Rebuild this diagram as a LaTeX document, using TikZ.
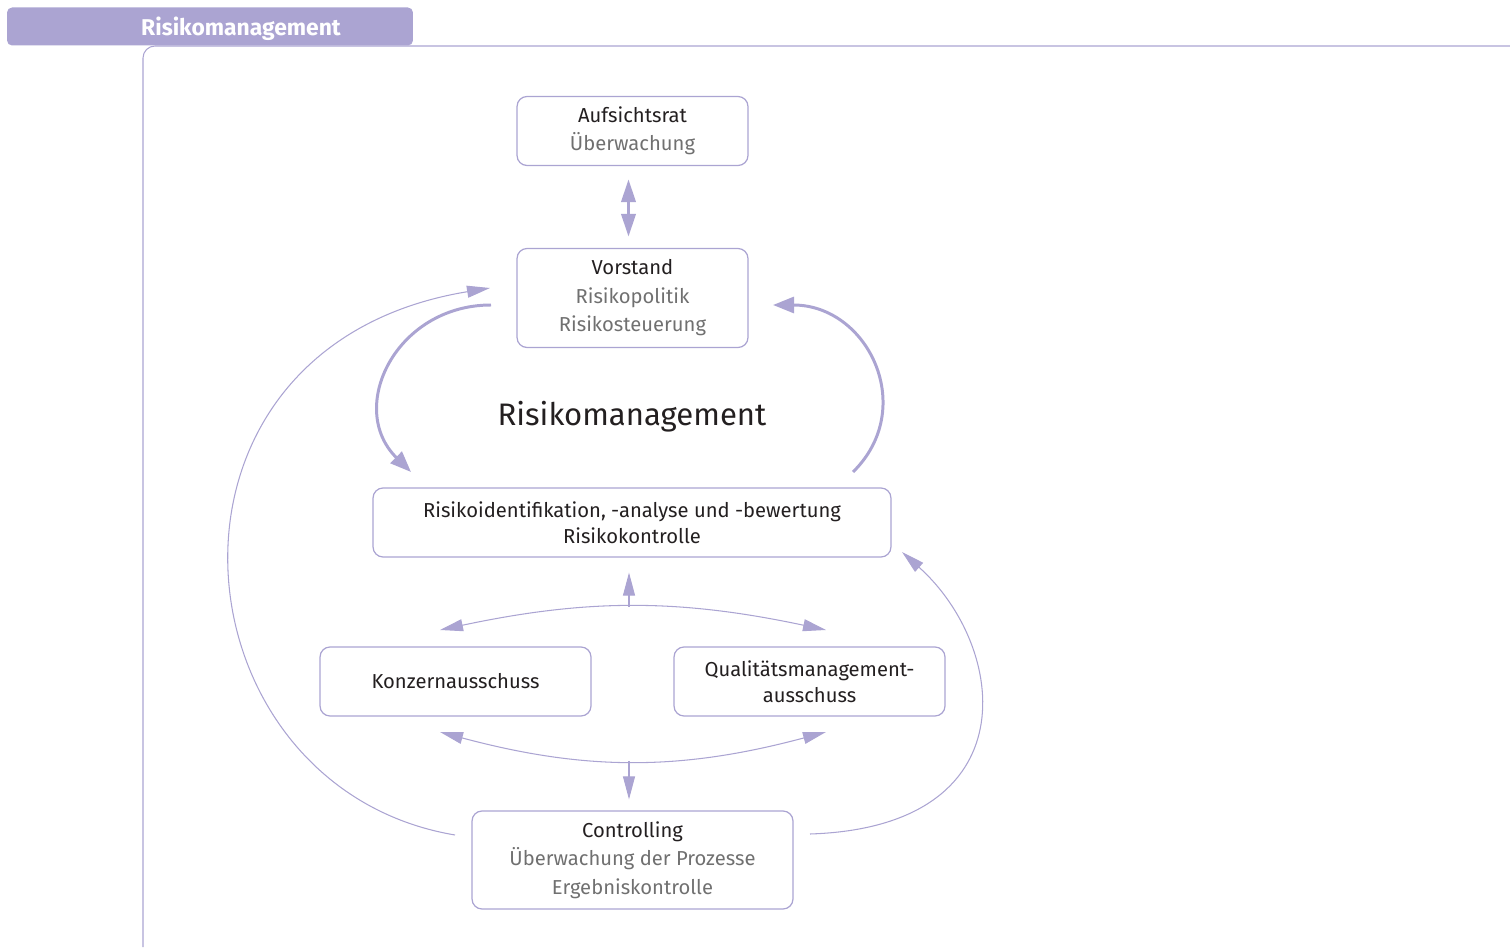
\documentclass[tikz,border=0pt]{standalone}
\usepackage{fontspec}
\setmainfont{Fira Sans}
\usetikzlibrary{shapes,arrows,arrows.meta}
\definecolor{lila}{RGB}{171,164,210}
\definecolor{grautext}{RGB}{112,112,112}
\definecolor{dunkel}{RGB}{35,31,32}
\tikzstyle{block} = [rectangle, draw=lila, line width=0.7pt, rounded corners=0.2cm,
    align=center, text=dunkel, font=\fontsize{11.5}{16.2}\selectfont]
\tikzstyle{line} = [draw=lila, line width=0.6pt, -{Triangle[length=0.46cm,width=0.24cm]}]
\tikzstyle{twoline} = [draw=lila, line width=0.6pt, {Triangle[length=0.46cm,width=0.24cm]}-{Triangle[length=0.46cm,width=0.24cm]}]
\tikzstyle{thickline} = [draw=lila, line width=1.7pt, -{Triangle[length=0.42cm,width=0.32cm]}]
\newcommand{\grau}[1]{\textcolor{grautext}{#1}}

\begin{document}
\begin{tikzpicture}[x=0.02cm, y=0.02cm]
	\useasboundingbox (0,0) rectangle (1510,947);
	% Reiter und Rahmen
	\draw[lila, line width=0.6pt, rounded corners=0.24cm] (143,0) -- (143,901) -- (1510,901);
	\node [rectangle, fill=lila, rounded corners=0.1cm, minimum width=8.12cm, minimum height=0.76cm] (tab) at (210,920.5) {};
	\node [text=white, font=\fontsize{13}{15}\selectfont\bfseries] (tabtext) at (241,918) {Risikomanagement};

	\node [block, minimum width=4.62cm, minimum height=1.38cm] (auf) at (632.5,816) {Aufsichtsrat\\\grau{Überwachung}};
	\node [block, minimum width=4.62cm, minimum height=1.98cm] (vor) at (632.5,649) {Vorstand\\\grau{Risikopolitik}\\\grau{Risikosteuerung}};
	\node [font=\fontsize{17.7}{20}\selectfont, text=dunkel] (titel) at (632,530) {Risikomanagement};
	\node [block, minimum width=10.36cm, minimum height=1.38cm, font=\fontsize{11.5}{14.8}\selectfont] (risk) at (632,424.5) {Risikoidentifikation, -analyse und -bewertung\\Risikokontrolle};
	\node [block, minimum width=5.42cm, minimum height=1.38cm] (konz) at (455.5,265.5) {Konzernausschuss};
	\node [block, minimum width=5.42cm, minimum height=1.38cm, font=\fontsize{11.5}{14.8}\selectfont] (qual) at (809.5,265.5) {Qualitätsmanagement-\\ausschuss};
	\node [block, minimum width=6.42cm, minimum height=1.96cm] (ctrl) at (632.5,87) {Controlling\\\grau{Überwachung der Prozesse}\\\grau{Ergebniskontrolle}};

	% Endpunkte der Boegen
	\coordinate (lo) at (491,642);
	\coordinate (lu) at (411,475);
	\coordinate (ro) at (773,642);
	\coordinate (ru) at (853,475);
	\coordinate (ka) at (440,317);
	\coordinate (kb) at (826,317);
	\coordinate (kc) at (440,215);
	\coordinate (kd) at (826,215);
	\coordinate (ca) at (455,112);
	\coordinate (cb) at (490,659);
	\coordinate (cc) at (810,113);
	\coordinate (cd) at (902,395);

	\draw [lila, line width=2.2pt, {Triangle[length=0.46cm,width=0.28cm]}-{Triangle[length=0.46cm,width=0.28cm]}, shorten <=0.26cm, shorten >=0.22cm] ([xshift=-0.08cm]auf.south) -- ([xshift=-0.08cm]vor.north);
	\path [thickline] (lo) .. controls (396,642) and (346,539) .. (lu);
	\path [thickline] (ru) .. controls (918,539) and (868,642) .. (ro);
	\path [twoline] (ka) to[bend left=12] node[coordinate, pos=0.5] (km1) {} (kb);
	\path [twoline] (kc) to[bend right=15] node[coordinate, pos=0.5] (km2) {} (kd);
	\path [line, shorten >=0.3cm] ([xshift=-0.08cm]km1) -- ([xshift=-0.08cm]km1 |- risk.south);
	\path [line, shorten >=0.22cm] ([xshift=-0.08cm]km2) -- ([xshift=-0.08cm]km2 |- ctrl.north);
	\path [line] (ca) .. controls (170,160) and (130,600) .. (cb);
	\path [line] (cc) .. controls (1030,120) and (1008,300) .. (cd);
\end{tikzpicture}
\end{document}
